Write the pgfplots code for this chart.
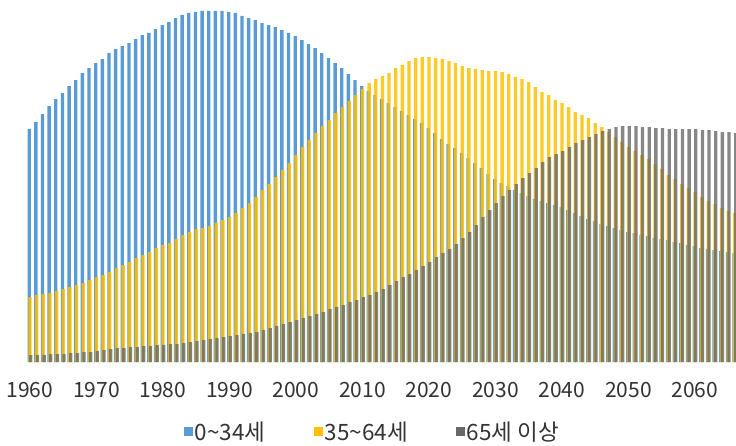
\documentclass[border=0pt]{standalone}
\usepackage{pgfplots}
\pgfplotsset{compat=1.18}
\usepackage{pgfplotstable}
\usepackage{fontspec}
\setmainfont{Noto Sans CJK KR}
\definecolor{cblue}{RGB}{91,155,213}
\definecolor{cyellow}{RGB}{255,192,0}
\definecolor{cgray}{RGB}{105,105,105}
\pgfplotstableread{
year blue yellow gray
1960 233 65 7
1961 240 67 7
1962 248 68 7
1963 256 69 8
1964 263 71 8
1965 269 73 8
1966 276 75 9
1967 282 77 9
1968 289 79 10
1969 294 82 10
1970 299 85 11
1971 303 87 12
1972 309 90 13
1973 313 94 14
1974 316 97 14
1975 319 100 15
1976 323 104 15
1977 327 107 16
1978 329 110 16
1979 333 114 17
1980 337 117 17
1981 340 119 18
1982 344 123 18
1983 347 127 19
1984 349 130 20
1985 350 133 21
1986 351 134 22
1987 351 136 23
1988 351 139 24
1989 351 142 25
1990 350 145 26
1991 349 149 27
1992 346 154 28
1993 344 159 29
1994 342 165 30
1995 339 172 32
1996 337 178 34
1997 335 185 36
1998 332 192 38
1999 329 199 40
2000 326 207 42
2001 322 215 44
2002 318 222 46
2003 314 229 48
2004 309 236 50
2005 304 242 53
2006 299 249 55
2007 294 255 57
2008 288 261 60
2009 282 267 62
2010 276 273 65
2011 271 279 67
2012 267 283 70
2013 263 286 73
2014 259 289 77
2015 255 294 81
2016 251 297 85
2017 247 301 88
2018 243 304 92
2019 239 305 96
2020 234 305 100
2021 229 304 105
2022 223 303 109
2023 218 301 113
2024 214 299 118
2025 209 296 124
2026 204 294 130
2027 199 293 137
2028 194 292 145
2029 188 291 152
2030 183 291 159
2031 179 290 166
2032 176 288 172
2033 172 285 178
2034 169 283 184
2035 166 280 189
2036 163 275 194
2037 161 270 200
2038 159 267 205
2039 157 262 208
2040 155 259 211
2041 152 255 215
2042 149 250 219
2043 146 247 222
2044 143 244 225
2045 141 239 228
2046 138 235 231
2047 136 230 233
2048 134 225 235
2049 132 220 236
2050 130 215 236
2051 129 211 236
2052 127 207 235
2053 126 203 235
2054 124 198 234
2055 123 193 234
2056 122 187 233
2057 120 183 233
2058 119 178 233
2059 117 174 233
2060 116 170 233
2061 114 165 232
2062 113 161 232
2063 112 158 231
2064 111 154 230
2065 110 151 230
2066 109 149 229
2067 108 146 228
}\datatable
\begin{document}
\begin{tikzpicture}
\begin{axis}[
  scale only axis,
  width=736pt, height=362pt,
  xmin=1955.49, xmax=2066.17,
  ymin=0, ymax=362,
  axis line style={draw=none},
  ybar, bar width=0.5,
  xtick={1960,1970,1980,1990,2000,2010,2020,2030,2040,2050,2060},
  xticklabels={1960,1970,1980,1990,2000,2010,2020,2030,2040,2050,2060},
  ytick=\empty,
  xtick pos=bottom,
  major tick length=0pt,
  x tick label style={font=\fontsize{21}{24}\selectfont, color=black!80, anchor=center, yshift=-28pt},
  xticklabel shift=0pt,
  legend columns=3,
  legend style={draw=none, fill=none, at={(axis description cs:0.506,-0.193)}, anchor=center,
    font=\fontsize{22.5}{25}\selectfont, text=black!80,
    /tikz/every even column/.append style={column sep=46pt}},
  legend image code/.code={\fill[#1, fill opacity=1, draw=none] (0pt,-4pt) rectangle (9pt,5pt);},
]
\addplot[fill=cblue, draw=none, bar shift=-0.12] table[x=year, y=blue] {\datatable};
\addlegendentry{0\textasciitilde 34세}
\addplot[fill=cyellow, fill opacity=0.85, draw=none, bar shift=0] table[x=year, y=yellow] {\datatable};
\addlegendentry{35\textasciitilde 64세}
\addplot[fill=cgray, fill opacity=0.8, draw=none, bar shift=0.12] table[x=year, y=gray] {\datatable};
\addlegendentry{65세 이상}
\coordinate (bl) at (rel axis cs:0,0);
\coordinate (tr) at (rel axis cs:1,1);
\end{axis}
\pgfresetboundingbox
\path ([yshift=-83pt]bl) rectangle (tr);
\end{tikzpicture}
\end{document}
